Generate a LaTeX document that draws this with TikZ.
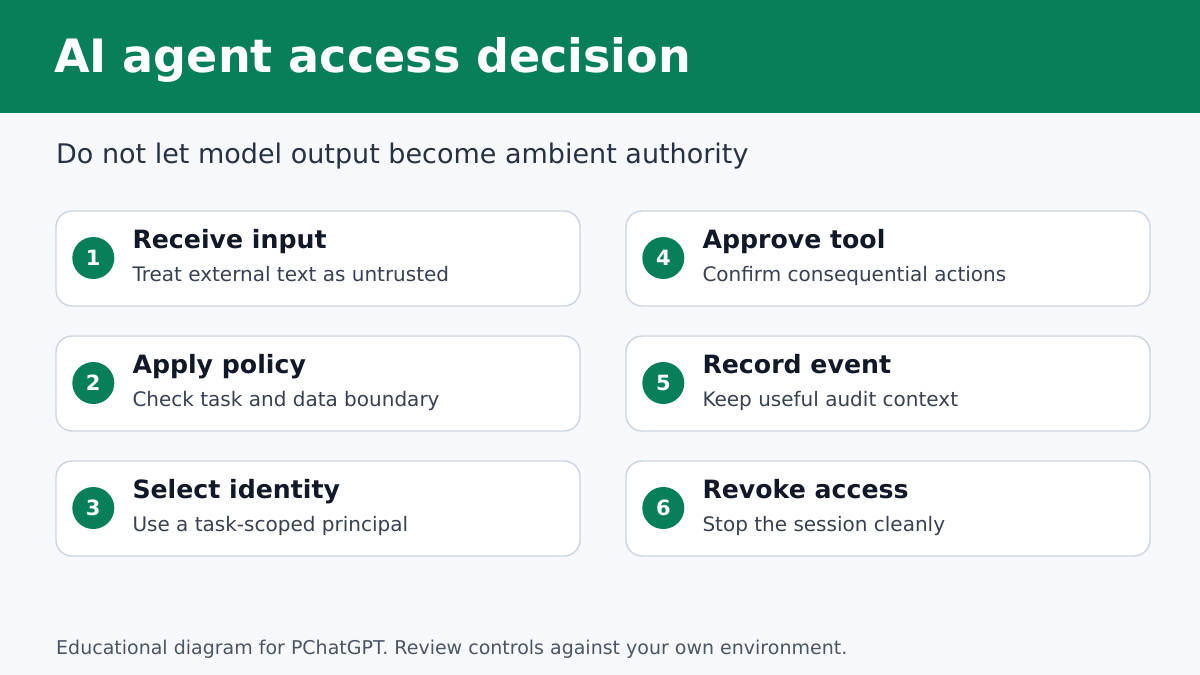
\documentclass[tikz,border=0pt]{standalone}
\usepackage{fontspec}
\setmainfont{DejaVu Sans}
\usetikzlibrary{positioning}
\definecolor{headgreen}{HTML}{087F5B}
\definecolor{pagebg}{HTML}{F7F8FC}
\definecolor{cardline}{HTML}{CBD5E1}
\definecolor{headtext}{HTML}{111827}
\definecolor{desctext}{HTML}{374151}
\definecolor{subtext}{HTML}{263244}
\definecolor{foottext}{HTML}{4B5563}
\tikzset{
  card/.style={draw=cardline, line width=1.4pt, fill=white, rounded corners=16pt,
    minimum width=524pt, minimum height=95pt, inner sep=0pt},
  numdot/.style={circle, fill=headgreen, minimum size=42pt, inner sep=0pt,
    text=white, font=\fontsize{21}{24}\selectfont\bfseries},
  cardhead/.style={anchor=base west, inner sep=0pt, text=headtext,
    font=\fontsize{25.2}{29}\selectfont\bfseries},
  carddesc/.style={anchor=base west, inner sep=0pt, text=desctext,
    font=\fontsize{20}{24}\selectfont}
}
\begin{document}
\begin{tikzpicture}[x=1pt,y=-1pt]
		\useasboundingbox (0,0) rectangle (1200,675);
		%Hintergrund
		\fill[pagebg] (0,0) rectangle (1200,675);
		\fill[headgreen] (0,0) rectangle (1200,113);
		%Titel
		\node[anchor=base west, inner sep=0pt, text=white, font=\fontsize{46}{52}\selectfont\bfseries] (title) at (54,72) {AI agent access decision};
		\node[anchor=base west, inner sep=0pt, text=subtext, font=\fontsize{27}{31}\selectfont] (subtitle) at (56,163) {Do not let model output become ambient authority};
		%Karten
		\foreach \n/\x/\y/\head/\desc in {
			1/318/258.5/Receive input/Treat external text as untrusted,
			2/318/383.5/Apply policy/Check task and data boundary,
			3/318/508.5/Select identity/Use a task-scoped principal,
			4/888/258.5/Approve tool/Confirm consequential actions,
			5/888/383.5/Record event/Keep useful audit context,
			6/888/508.5/Revoke access/Stop the session cleanly} {
			\node[card] (card\n) at (\x,\y) {};
			\node[numdot] (num\n) at ([xshift=38pt,yshift=0.5pt]card\n.west) {\n};
			\node[cardhead] (head\n) at ([xshift=77pt,yshift=10.5pt]card\n.west) {\head};
			\node[carddesc] (desc\n) at ([xshift=77pt,yshift=-22.5pt]card\n.west) {\desc};
		}
		%Fusszeile
		\node[anchor=base west, inner sep=0pt, text=foottext, font=\fontsize{19}{23}\selectfont] (footer) at (56,654) {Educational diagram for PChatGPT. Review controls against your own environment.};
\end{tikzpicture}
\end{document}
